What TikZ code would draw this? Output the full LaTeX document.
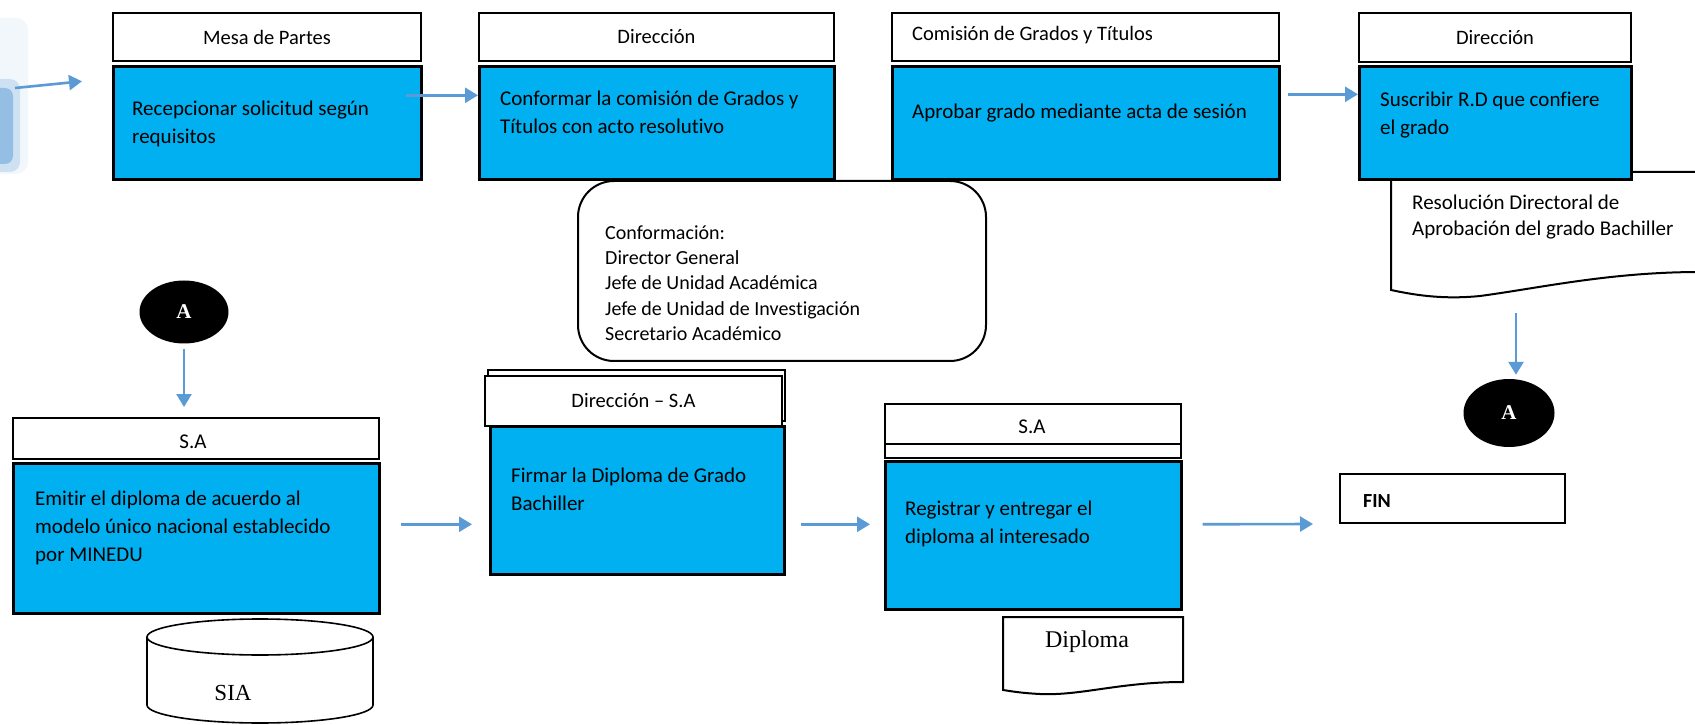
\documentclass[tikz,border=0pt]{standalone}
\usepackage{fontspec}
\setmainfont{Carlito}[Ligatures=NoCommon]
\newfontfamily\timesfont{Liberation Serif}
\usetikzlibrary{arrows.meta,shapes.geometric}

\begin{document}
\begin{tikzpicture}[x=1pt,y=1pt,
  lane/.style={draw=black,line width=2pt,fill=white,inner sep=0pt,anchor=north west,font=\fontsize{20.5}{24}\selectfont},
  task/.style={draw=black,line width=2.6pt,fill=taskColor,inner sep=0pt,anchor=north west},
  lbl/.style={inner sep=0pt,font=\fontsize{21}{28}\selectfont,align=left},
  flow/.style={draw=flowColor,line width=2.6pt,-{Triangle[length=13pt,width=15pt]}},
  conn/.style={ellipse,fill=black,inner sep=0pt,minimum width=89pt,minimum height=63pt,text=white,font=\timesfont\bfseries\fontsize{21}{24}\selectfont}]
\definecolor{taskColor}{RGB}{0,176,240}
\definecolor{flowColor}{RGB}{91,155,213}
\path[use as bounding box,fill=white] (0,0) rectangle (1695,724);

% picture at the left edge
\path[fill=flowColor!8,rounded corners=12] (-10,550) rectangle (28,706);
\path[fill=flowColor!30,rounded corners=10] (-10,552) rectangle (20,645);
\path[fill=flowColor!65,rounded corners=8] (-10,560) rectangle (13,636);

% top row
\node[lane,minimum width=308,minimum height=48] (mesa) at (112,712) {Mesa de Partes};
\node[task,minimum width=308,minimum height=113] (recep) at (112,659) {};
\node[lbl,anchor=west] (recepT) at (132,600) {Recepcionar solicitud según\\requisitos};

\node[lane,minimum width=355,minimum height=48] (dir) at (478,712) {Dirección};
\node[task,minimum width=355,minimum height=113] (conf) at (478,659) {};
\node[lbl,anchor=west] (confT) at (500,612) {Conformar la comisión de Grados y\\Títulos con acto resolutivo};

\node[lane,minimum width=387,minimum height=48] (com) at (891,712) {};
\node[lbl,anchor=west,font=\fontsize{20.5}{24}\selectfont] (comT) at (912,689) {Comisión de Grados y Títulos};
\node[task,minimum width=387,minimum height=113] (aprob) at (891,659) {};
\node[lbl,anchor=west] (aprobT) at (912,611) {Aprobar grado mediante acta de sesión};

% resolucion directoral
\path[draw=black,line width=2pt,fill=white] (1391,552) -- (1700,552) -- (1700,452)
  .. controls (1610,452) and (1540,436) .. (1480,428)
  .. controls (1440,424) and (1410,430) .. (1391,434) -- cycle;
\node[lbl,anchor=west,font=\fontsize{21}{26}\selectfont] (rdT) at (1412,507) {Resolución Directoral de\\Aprobación del grado Bachiller};
\coordinate (rdOut) at (1516,411);

\node[lane,minimum width=272,minimum height=49] (dir2) at (1358,712) {Dirección};
\node[task,minimum width=272,minimum height=113] (susc) at (1358,659) {};
\node[lbl,anchor=west] (suscT) at (1380,609) {Suscribir R.D que confiere\\el grado};

% comision
\node[draw=black,line width=2pt,fill=white,rounded corners=36,minimum width=408,minimum height=180,anchor=north west] (comis) at (577,544) {};
\node[lbl,anchor=west,font=\fontsize{20}{25.2}\selectfont] (comisT) at (605,441) {Conformación:\\Director General\\Jefe de Unidad Académica\\Jefe de Unidad de Investigación\\Secretario Académico};

% bottom row
\node[conn] (conA1) at (184,412) {A};

\node[lane,minimum width=366,minimum height=41] (sa1) at (12,307) {};
\node[lbl] (sa1T) at (193,282) {S.A};
\node[task,minimum width=366,minimum height=150] (emit) at (12,262) {};
\node[lbl,anchor=west] (emitT) at (35,196) {Emitir el diploma de acuerdo al\\modelo único nacional establecido\\por MINEDU};

\path[draw=black,line width=1.6pt,fill=white] (147,87) -- (147,19)
  arc[start angle=180,end angle=360,x radius=113,y radius=18] -- (373,87);
\path[draw=black,line width=1.6pt,fill=white] (260,87) ellipse [x radius=113,y radius=18];
\node[inner sep=0pt,font=\timesfont\fontsize{23}{26}\selectfont] (siaT) at (233,31) {SIA};

\path[draw=black,line width=2pt,fill=white] (488,354) rectangle (785,303);
\node[lane,minimum width=297,minimum height=50] (dsa) at (484,349) {Dirección – S.A};
\node[task,minimum width=294,minimum height=148] (firm) at (489,299) {};
\node[lbl,anchor=west] (firmT) at (511,235) {Firmar la Diploma de Grado\\Bachiller};

\node[lane,minimum width=296,minimum height=40] (sa2) at (884,321) {};
\node[lbl] (sa2T) at (1032,297) {S.A};
\node[lane,minimum width=296,minimum height=14] (sa2s) at (884,281) {};
\node[task,minimum width=296,minimum height=148] (reg) at (884,264) {};
\node[lbl,anchor=west] (regT) at (905,200) {Registrar y entregar el\\diploma al interesado};

\path[draw=black,line width=2pt,fill=white] (1003,107) -- (1183,107) -- (1183,42)
  .. controls (1120,42) and (1080,28) .. (1040,30)
  .. controls (1020,31) and (1010,33) .. (1003,34) -- cycle;
\node[inner sep=0pt,font=\timesfont\fontsize{24}{28}\selectfont] (diplT) at (1087,82) {Diploma};

\node[conn,minimum width=91,minimum height=68] (conA2) at (1509,311) {A};
\node[draw=black,line width=2pt,minimum width=225,minimum height=49,anchor=north west] (fin) at (1339,251) {};
\node[lbl,anchor=west,font=\bfseries\fontsize{20}{24}\selectfont] (finT) at (1363,223) {FIN};

% arrows
\coordinate (inStart) at (15,636);
\draw[flow] (inStart) -- ([xshift=-30,yshift=41.5]recep.west);
\draw[flow] ([xshift=-17,yshift=27.5]recep.east) -- ([yshift=27.5]conf.west);
\draw[flow] ([xshift=7,yshift=28.5]aprob.east) -- ([yshift=28.5]susc.west);
\draw[flow,shorten >=4] (rdOut) -- (rdOut |- conA2.north);
\draw[flow,shorten <=5,shorten >=10] (conA1.south) -- (conA1.south |- sa1.north);
\draw[flow] ([xshift=20,yshift=14]emit.east) -- ([xshift=-17,yshift=-24]firm.west);
\draw[flow] ([xshift=15,yshift=-24]firm.east) -- ([xshift=-14,yshift=11]reg.west);
\draw[flow] ([xshift=20,yshift=11]reg.east) -- ([xshift=-26,yshift=-25.5]fin.west);
\end{tikzpicture}
\end{document}
